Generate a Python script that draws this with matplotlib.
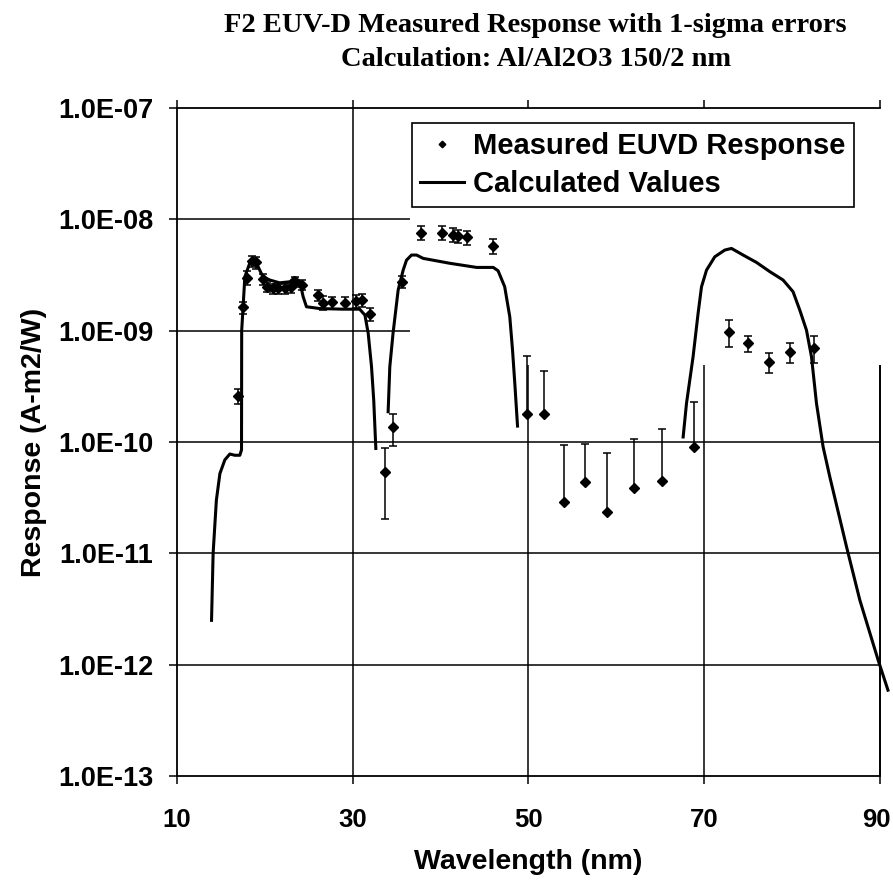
import matplotlib.pyplot as plt
import matplotlib.transforms as mtransforms
import numpy as np

# measured EUVD response (wavelength nm, response A-m2/W, 1-sigma)
meas_wl = [17.0, 17.55, 18.04, 18.5, 18.99, 19.75, 20.28, 20.9, 21.5, 22.3, 22.97,
           23.4, 24.26, 26.1, 26.6, 27.7, 29.1, 30.44, 31.1, 32.0, 33.74, 34.6,
           35.6, 37.8, 40.2, 41.4, 42.0, 42.96, 46.0, 49.8, 51.8, 54.06, 56.4,
           58.95, 62.0, 65.25, 68.85, 72.8, 75.0, 77.4, 79.8, 82.5]
meas_resp = [2.6e-10, 1.62e-9, 3.0e-9, 4.2e-9, 4.1e-9, 2.9e-9, 2.48e-9, 2.4e-9, 2.4e-9,
             2.4e-9, 2.45e-9, 2.75e-9, 2.57e-9, 2.09e-9, 1.78e-9, 1.8e-9, 1.78e-9,
             1.85e-9, 1.88e-9, 1.41e-9, 5.4e-11, 1.35e-10, 2.75e-9, 7.6e-9, 7.6e-9,
             7.3e-9, 7.1e-9, 6.9e-9, 5.75e-9, 1.78e-10, 1.78e-10, 2.9e-11, 4.34e-11,
             2.33e-11, 3.83e-11, 4.46e-11, 9.06e-11, 9.8e-10, 7.7e-10, 5.26e-10,
             6.4e-10, 7.0e-10]
meas_sig = [0.42e-10, 0.2e-9, 0.45e-9, 0.5e-9, 0.5e-9, 0.35e-9, 0.25e-9, 0.25e-9, 0.25e-9,
            0.25e-9, 0.25e-9, 0.28e-9, 0.26e-9, 0.23e-9, 0.25e-9, 0.22e-9, 0.22e-9,
            0.25e-9, 0.25e-9, 0.2e-9, 3.35e-11, 0.43e-10, 0.35e-9, 1.1e-9, 1.1e-9,
            1.0e-9, 1.0e-9, 1.0e-9, 0.85e-9, 4.2e-10, 2.6e-10, 6.5e-11, 5.2e-11,
            5.7e-11, 6.8e-11, 8.6e-11, 1.4e-10, 2.7e-10, 1.3e-10, 1.1e-10,
            1.3e-10, 1.9e-10]

# calculated Al/Al2O3 150/2 nm response, three segments separated by NaN
calc_wl = [13.95, 14.13, 14.5, 14.9, 15.46, 16.03, 16.6, 17.17, 17.36, 17.38, 17.74,
           18.3, 18.68, 19.25, 19.8, 20.58, 21.7, 22.86, 23.42, 24.0, 24.37, 24.75,
           26.27, 28.93, 30.8, 31.4, 31.77, 32.15, 32.4, 32.64, np.nan,
           34.04, 34.23, 34.6, 35.18, 35.75, 36.13, 36.7, 37.27, 38.03, 41.06, 44.1,
           46.0, 46.55, 47.3, 47.88, 48.19, 48.45, 48.76, np.nan,
           67.6, 67.98, 68.73, 69.3, 69.69, 70.26, 71.2, 72.34, 73.1, 74.42, 75.95,
           77.46, 78.97, 80.1, 80.87, 81.63, 82.2, 82.77, 83.52, 84.28, 86.18, 87.7,
           89.78, 90.9]
calc_resp = [2.5e-12, 1.0e-11, 3.0e-11, 5.2e-11, 6.9e-11, 7.8e-11, 7.6e-11, 7.6e-11, 8.5e-11,
             1.0e-9, 3.05e-9, 4.05e-9, 4.3e-9, 3.75e-9, 3.05e-9, 2.85e-9, 2.69e-9, 2.75e-9,
             3.01e-9, 2.75e-9, 2.02e-9, 1.64e-9, 1.58e-9, 1.56e-9, 1.56e-9, 1.38e-9,
             9.5e-10, 4.74e-10, 2.38e-10, 8.75e-11, np.nan,
             1.87e-10, 4.74e-10, 9.5e-10, 2.32e-9, 3.5e-9, 4.3e-9, 4.78e-9, 4.78e-9,
             4.46e-9, 4.03e-9, 3.7e-9, 3.7e-9, 3.45e-9, 2.48e-9, 1.33e-9, 6.7e-10,
             3.36e-10, 1.39e-10, np.nan,
             1.11e-10, 2.22e-10, 5.83e-10, 1.43e-9, 2.48e-9, 3.5e-9, 4.61e-9, 5.3e-9,
             5.48e-9, 4.78e-9, 4.1e-9, 3.39e-9, 2.85e-9, 2.24e-9, 1.53e-9, 1.01e-9,
             5.83e-10, 2.22e-10, 9.06e-11, 4.88e-11, 1.15e-11, 3.8e-12, 1.1e-12, 5.9e-13]

x_ticks = [10, 30, 50, 70, 90]
y_ticks = [1e-13, 1e-12, 1e-11, 1e-10, 1e-9, 1e-8, 1e-7]
y_labels = ['1.0E-13', '1.0E-12', '1.0E-11', '1.0E-10', '1.0E-09', '1.0E-08', '1.0E-07']

plt.rcParams['font.family'] = ['Liberation Sans', 'DejaVu Sans']

fig = plt.figure(figsize=(8.93, 8.84), dpi=100)
ax = fig.add_axes([0.198, 0.1222, 0.7875, 0.7556])
ax.set_yscale('log')
ax.set_xlim(10, 90)
ax.set_ylim(1e-13, 1e-7)

# partial gridlines (the legend area hides part of them)
gkw = dict(color='black', lw=1.1, zorder=1)
for yv in [1e-12, 1e-11, 1e-10]:
    ax.hlines(yv, 10, 90, **gkw)
for yv in [1e-9, 1e-8]:
    ax.hlines(yv, 10, 36.5, **gkw)
ax.vlines(30, 1e-13, 1e-7, **gkw)
ax.vlines([50, 70], 1e-13, 4.9e-10, **gkw)
ax.vlines(90, 1e-13, 4.9e-10, color='black', lw=1.4, zorder=1, clip_on=False)

wl = np.array(meas_wl)
r = np.array(meas_resp)
s = np.array(meas_sig)
low = np.where(r - s > 0, s, 0.0)
ax.errorbar(wl, r, yerr=[low, s], fmt='none', ecolor='black', elinewidth=1.1,
            capsize=3, capthick=1.1, zorder=2)
ax.plot(wl, r, linestyle='none', marker='D', markersize=5.6, color='black',
        zorder=3, label='Measured EUVD Response')
ax.plot(calc_wl, calc_resp, color='black', lw=2.2, zorder=2.5, clip_on=False,
        label='Calculated Values')

ax.set_xticks(x_ticks)
ax.set_xticklabels([str(v) for v in x_ticks], fontweight='bold', fontsize=18.5)
ax.set_yticks(y_ticks)
ax.set_yticklabels(y_labels, fontweight='bold', fontsize=19.5)
ax.minorticks_off()
ax.tick_params(axis='x', length=0, pad=17)
ax.tick_params(axis='x', top=True, length=6, direction='out', width=1.1)
ax.tick_params(axis='y', length=6, direction='out', width=1.1, pad=11)
ax.spines['right'].set_visible(False)
for sp in ['left', 'bottom', 'top']:
    ax.spines[sp].set_linewidth(1.3)

# last x label sits at the figure edge; nudge it left a little
last = ax.get_xticklabels()[-1]
last.set_transform(last.get_transform() +
                   mtransforms.ScaledTranslation(-4 / 100, 0, fig.dpi_scale_trans))

ax.set_xlabel('Wavelength (nm)', fontsize=20.5, fontweight='bold', labelpad=12)
ax.set_ylabel('Response (A-m2/W)', fontsize=20.5, fontweight='bold', labelpad=8)

leg = ax.legend(loc='upper left', bbox_to_anchor=(0.334, 0.9775),
                prop={'weight': 'bold', 'size': 21}, frameon=True, fancybox=False,
                edgecolor='black', framealpha=1, markerscale=0.6, handlelength=1.5,
                handletextpad=0.3, borderpad=0.3, labelspacing=0.35,
                borderaxespad=0)
leg.get_frame().set_linewidth(1.2)

fig.text(0.6, 0.985, 'F2 EUV-D Measured Response with 1-sigma errors\n'
         'Calculation: Al/Al2O3 150/2 nm', ha='center', va='top',
         family='Liberation Serif', fontweight='bold', fontsize=20.5, linespacing=1.45)

fig.savefig('out.png', dpi=100)
